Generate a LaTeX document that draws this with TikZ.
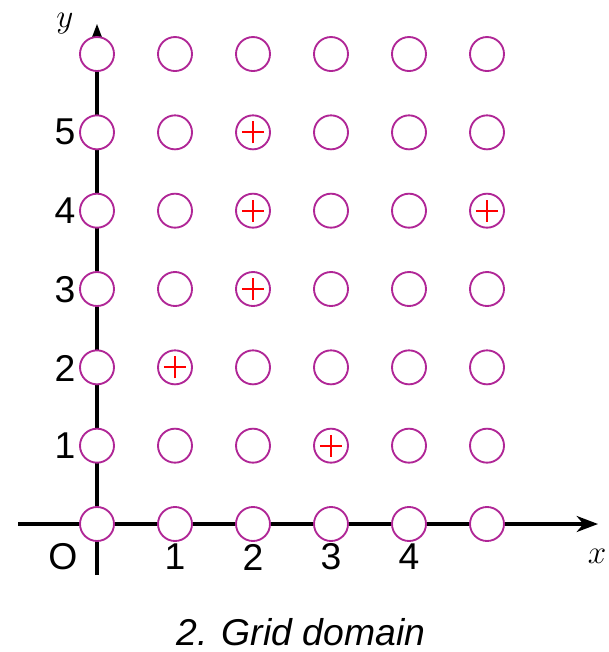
\documentclass[tikz,border=0pt]{standalone}
\usepackage{fontspec}
\setmainfont{Liberation Sans}
\usetikzlibrary{arrows.meta}
\definecolor{ringc}{RGB}{176,38,150}
\begin{document}
\begin{tikzpicture}[x=0.75pt,y=-0.75pt,
  ring/.style={circle,draw=ringc,fill=white,line width=1.4pt,minimum size=25.5pt,inner sep=0pt},
  axisline/.style={line width=2.4pt,-{Stealth[length=16pt,width=12pt,inset=5pt]}},
  plusmark/.style={draw=red,line width=1.6pt},
  lab/.style={font=\fontsize{28}{32}\selectfont,inner sep=0pt},
  mlab/.style={font=\fontsize{32}{36}\selectfont,inner sep=0pt}]
\useasboundingbox (0,0) rectangle (609,652);
% axes
\coordinate (xs) at (18,524);
\coordinate (xe) at (598,524);
\coordinate (ys) at (97,575);
\coordinate (ye) at (97,24);
\draw[axisline] (xs) -- (xe);
\draw[axisline] (ys) -- (ye);
% grid of rings
\foreach \i in {0,...,5}
  \foreach \j in {0,...,6}
    \node[ring] (c\i\j) at ({97+78*\i},{524-78.33*\j}) {};
% plus marks
\foreach \p in {c25,c24,c54,c23,c12,c31}{
  \draw[plusmark] ([xshift=-8.3pt]\p.center) -- ([xshift=8.3pt]\p.center);
  \draw[plusmark] ([yshift=-8.3pt]\p.center) -- ([yshift=8.3pt]\p.center);
}
% labels
\node[lab] (o) at (63,557) {O};
\node[lab] (x1) at (175,557) {1};
\node[lab] (x2) at (253,557) {2};
\node[lab] (x3) at (331,557) {3};
\node[lab] (x4) at (409,557) {4};
\node[lab] (y1) at (65,446) {1};
\node[lab] (y2) at (65,368) {2};
\node[lab] (y3) at (65,290) {3};
\node[lab] (y4) at (65,211) {4};
\node[lab] (y5) at (65,132) {5};
\node[mlab] (ylab) at (65,24) {$y$};
\node[mlab] (xlab) at (597,556) {$x$};
\node[lab,font=\fontsize{28}{32}\selectfont\itshape] (cap) at (301,632) {2. Grid domain};
\end{tikzpicture}
\end{document}
